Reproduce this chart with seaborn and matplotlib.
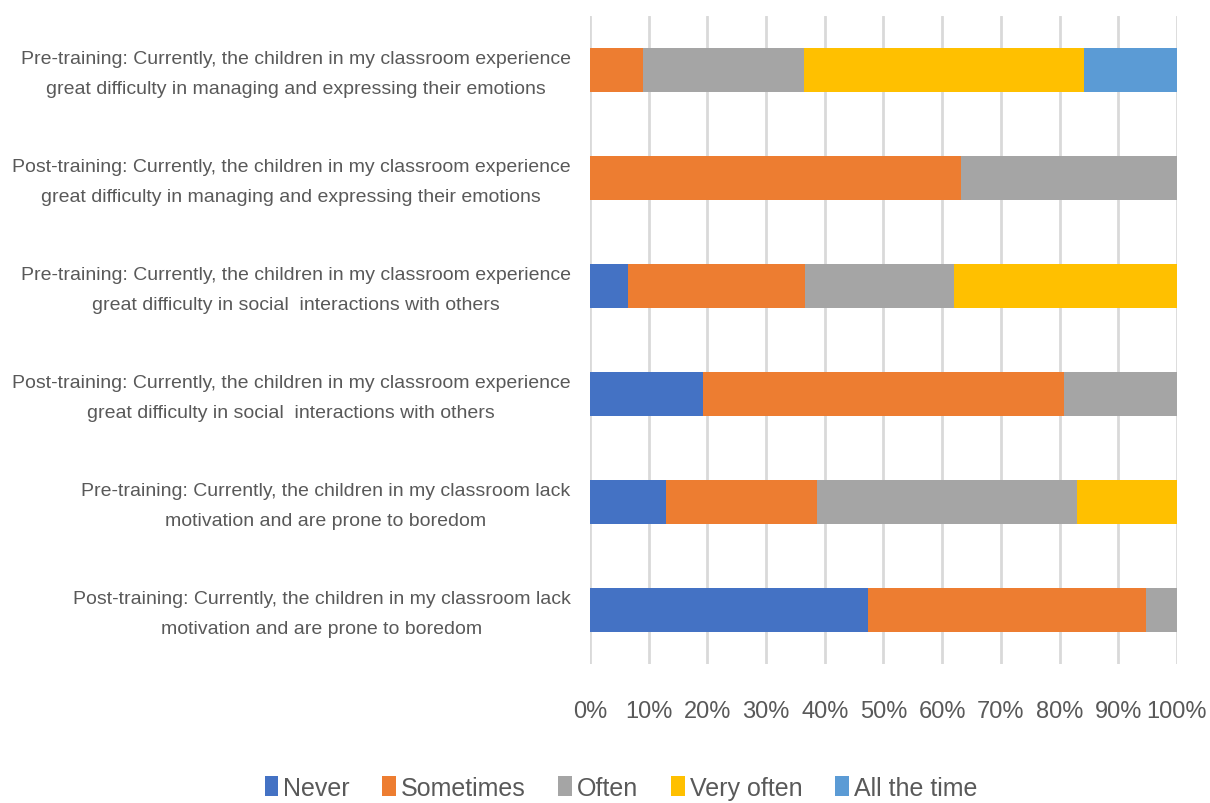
import pandas as pd
import seaborn as sns
import matplotlib.pyplot as plt
from matplotlib.patches import Patch
from matplotlib.transforms import ScaledTranslation

# Data (percent of respondents)
questions = [
    'Pre-training: Currently, the children in my classroom experience\ngreat difficulty in managing and expressing their emotions',
    'Post-training: Currently, the children in my classroom experience\ngreat difficulty in managing and expressing their emotions',
    'Pre-training: Currently, the children in my classroom experience\ngreat difficulty in social  interactions with others',
    'Post-training: Currently, the children in my classroom experience\ngreat difficulty in social  interactions with others',
    'Pre-training: Currently, the children in my classroom lack\nmotivation and are prone to boredom',
    'Post-training: Currently, the children in my classroom lack\nmotivation and are prone to boredom',
]
responses = ['Never', 'Sometimes', 'Often', 'Very often', 'All the time']
never = [0.0, 0.0, 6.4, 19.2, 13.0, 47.4]
sometimes = [9.1, 63.2, 30.3, 61.6, 25.7, 47.4]
often = [27.3, 36.8, 25.3, 19.2, 44.3, 5.2]
very_often = [47.7, 0.0, 38.0, 0.0, 17.0, 0.0]
all_the_time = [15.9, 0.0, 0.0, 0.0, 0.0, 0.0]
colors = ['#4472C4', '#ED7D31', '#A5A5A5', '#FFC000', '#5B9BD5']

df = pd.DataFrame({'question': questions, 'Never': never, 'Sometimes': sometimes,
                   'Often': often, 'Very often': very_often, 'All the time': all_the_time})
df = df.set_index('question')
cum = df[responses].cumsum(axis=1).reset_index()

sns.set_style('white')
plt.rcParams['font.family'] = ['Liberation Sans', 'DejaVu Sans']

fig = plt.figure(figsize=(12.1, 8.04), dpi=100)
ax = fig.add_axes([0.4876, 0.1729, 0.4851, 0.8059])

# draw cumulative bars from the longest to the shortest so they stack
for resp, col in reversed(list(zip(responses, colors))):
    sns.barplot(data=cum, x=resp, y='question', color=col, width=0.4,
                orient='h', ax=ax, saturation=1, linewidth=0)

ax.set_xlim(0, 100)
ax.set_xticks(range(0, 101, 10))
ax.set_xticklabels([f'{t}%' for t in range(0, 101, 10)], fontsize=17, color='#595959')
ax.tick_params(axis='x', pad=26, length=0)
ax.tick_params(axis='y', pad=14, length=0)
shift = ScaledTranslation(0, 5 / 100, fig.dpi_scale_trans)
for lab in ax.get_yticklabels():
    lab.set_fontsize(14)
    lab.set_color('#595959')
    lab.set_multialignment('center')
    lab.set_linespacing(2.0)
    lab.set_transform(lab.get_transform() + shift)
ax.set_xlabel('')
ax.set_ylabel('')
ax.grid(axis='x', color='#D9D9D9', linewidth=2)
ax.set_axisbelow(True)
for s in ax.spines.values():
    s.set_visible(False)
ax.set_ylim(5.5, -0.5)

handles = [Patch(facecolor=c, edgecolor='none', label=r) for r, c in zip(responses, colors)]
fig.legend(handles=handles, loc='center', bbox_to_anchor=(0.513, 0.019), ncol=5,
           frameon=False, fontsize=18, labelcolor='#595959', handlelength=0.55,
           handleheight=0.8, handletextpad=0.2, columnspacing=1.3)

fig.savefig('out.png', dpi=100)
